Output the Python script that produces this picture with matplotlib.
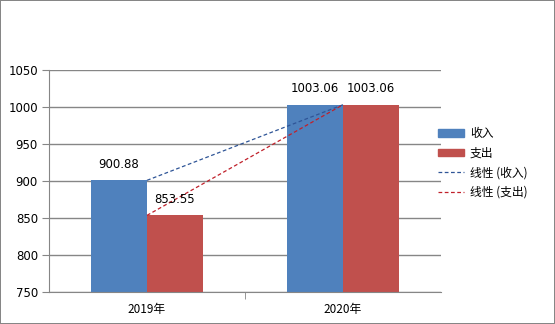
import numpy as np
import matplotlib.pyplot as plt
from matplotlib.lines import Line2D
from matplotlib.patches import Patch

plt.rcParams['font.family'] = ['Noto Sans CJK SC', 'DejaVu Sans']

# -------- DATA --------
categories = ["2019年", "2020年"]
income = [900.88, 1003.06]
expense = [853.55, 1003.06]
income_labels = ["900.88", "1003.06"]
expense_labels = ["853.55", "1003.06"]
y_ticks = [750, 800, 850, 900, 950, 1000, 1050]

BLUE = "#4F81BD"
RED = "#C0504D"
GRID = "#868686"

fig = plt.figure(figsize=(5.55, 3.24), dpi=100)
fig.patch.set_edgecolor(GRID)
fig.patch.set_linewidth(1.2)
ax = fig.add_axes([0.0883, 0.0988, 0.7063, 0.6852])

x = np.arange(len(categories))
w = 0.2857
ax.bar(x - w / 2, income, w, color=BLUE, zorder=2)
ax.bar(x + w / 2, expense, w, color=RED, zorder=2)

# linear trendlines through category centres
ax.plot(x, income, linestyle=(0, (3, 2)), color="#2F5597", lw=0.9, zorder=3)
ax.plot(x, expense, linestyle=(0, (3, 2)), color="#C0202A", lw=0.9, zorder=3)

for xi, v, t in zip(x, income, income_labels):
    ax.text(xi - w / 2, v + 13, t, ha="center", va="bottom", fontsize=8.5,
            family=["DejaVu Sans"], zorder=4)
for xi, v, t in zip(x, expense, expense_labels):
    ax.text(xi + w / 2, v + 13, t, ha="center", va="bottom", fontsize=8.5,
            family=["DejaVu Sans"], zorder=4)

ax.set_xlim(-0.5, 1.5)
ax.set_ylim(750, 1050)
ax.set_yticks(y_ticks)
ax.set_yticklabels([str(v) for v in y_ticks], fontsize=8.5, family=["DejaVu Sans"])
ax.yaxis.grid(True, color=GRID, lw=1, zorder=0)
ax.set_axisbelow(True)

ax.set_xticks(x)
ax.set_xticklabels(categories, fontsize=8.5)
ax.tick_params(axis="x", length=0, pad=8)
ax.set_xticks([0.5], minor=True)
ax.tick_params(axis="x", which="minor", length=5, color=GRID, direction="out")
ax.tick_params(axis="y", length=5, color=GRID, pad=3)

for s in ["top", "right"]:
    ax.spines[s].set_visible(False)
for s in ["left", "bottom"]:
    ax.spines[s].set_color(GRID)

handles = [
    Patch(color=BLUE, label="收入"),
    Patch(color=RED, label="支出"),
    Line2D([], [], color="#2F5597", ls=(0, (3, 2)), lw=0.9, label="线性 (收入)"),
    Line2D([], [], color="#C0202A", ls=(0, (3, 2)), lw=0.9, label="线性 (支出)"),
]
fig.legend(handles=handles, loc="upper left", bbox_to_anchor=(0.77, 0.64),
           frameon=False, fontsize=8.5, handlelength=2.2, handleheight=0.6,
           labelspacing=0.55, handletextpad=0.5)

fig.savefig("out.png", dpi=100)
